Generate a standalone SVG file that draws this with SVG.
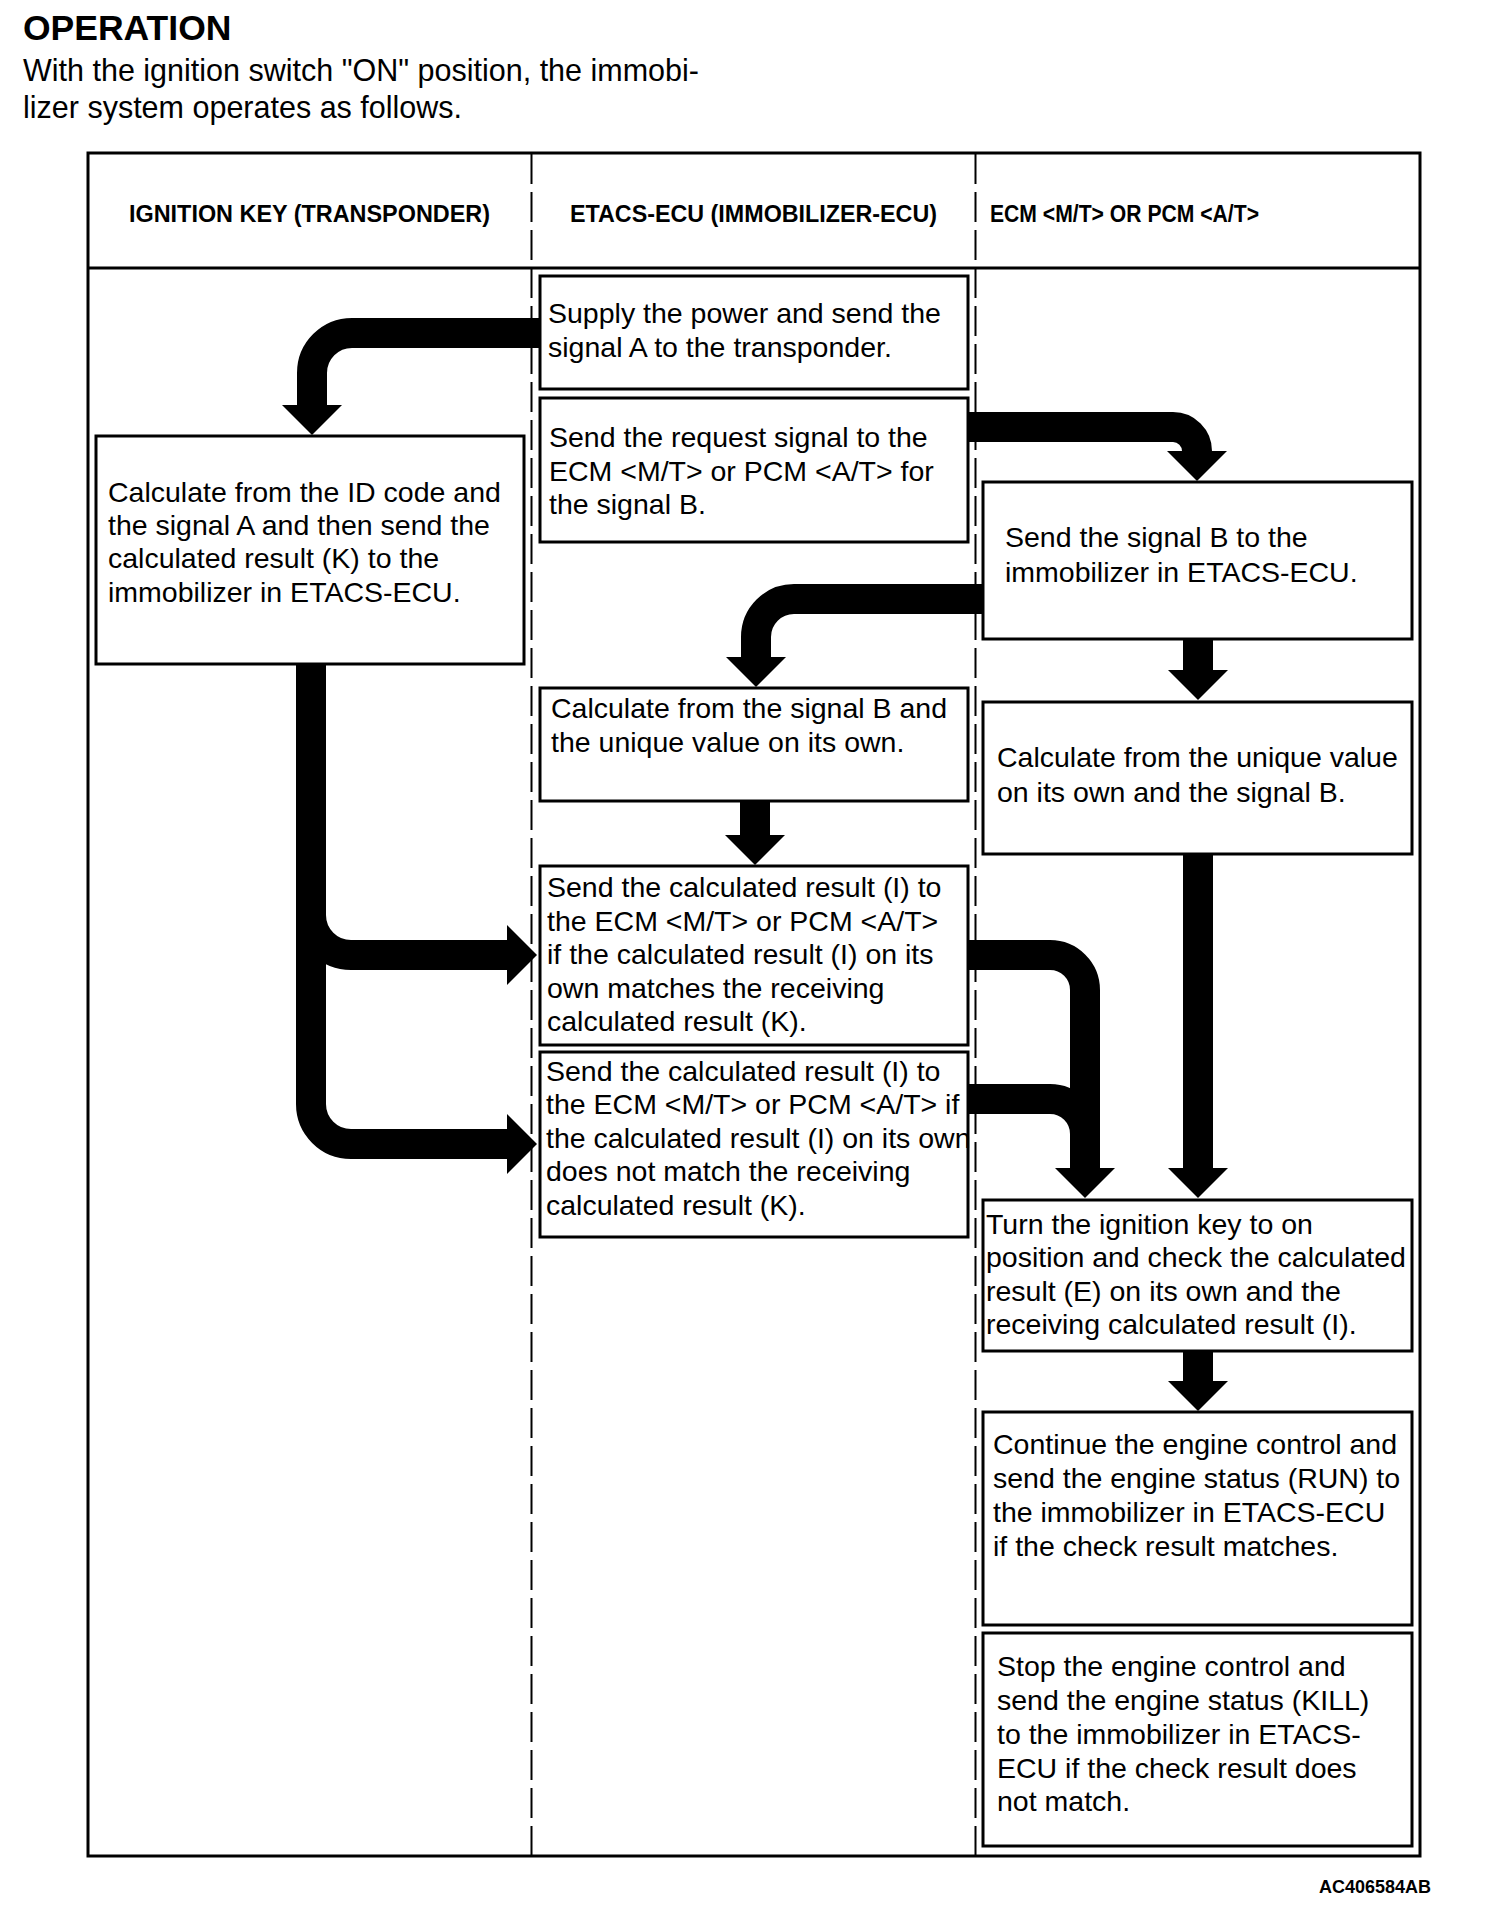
<svg xmlns="http://www.w3.org/2000/svg" width="1504" height="1906" viewBox="0 0 1504 1906">
<style>
.bg{fill:#fff}
.frame{fill:none;stroke:#000;stroke-width:3}
.lane{stroke:#000;stroke-width:2;stroke-dasharray:30 8}
.box{fill:#fff;stroke:#000;stroke-width:3}
.t{font-family:"Liberation Sans",Arial,Helvetica,sans-serif;font-size:28.5px;fill:#000}
.p{font-family:"Liberation Sans",Arial,Helvetica,sans-serif;font-size:30.5px;fill:#000}
.hd{font-family:"Liberation Sans",Arial,Helvetica,sans-serif;font-size:23.5px;font-weight:bold;fill:#000}
.conn{fill:none;stroke:#000;stroke-width:30;stroke-linecap:butt;stroke-linejoin:miter}
</style>
<defs>
<marker id="ah" markerUnits="userSpaceOnUse" viewBox="0 0 30 60" markerWidth="30" markerHeight="60" refX="0" refY="30" orient="auto">
<path d="M0,0 L30,30 L0,60 Z" fill="#000"/>
</marker>
</defs>
<rect class="bg" x="0" y="0" width="1504" height="1906"/>

<g id="title">
<text x="23" y="40" font-family="Liberation Sans, Arial, sans-serif" font-size="35.5" font-weight="bold">OPERATION</text>
<text class="p" x="23" y="81">With the ignition switch "ON" position, the immobi-</text>
<text class="p" x="23" y="118">lizer system operates as follows.</text>
</g>

<g id="frame">
<rect class="frame" x="88" y="153" width="1332" height="1703"/>
<line class="frame" x1="88" y1="268" x2="1420" y2="268"/>
<line class="lane" x1="531.5" y1="154" x2="531.5" y2="1855"/>
<line class="lane" x1="975.5" y1="154" x2="975.5" y2="1855"/>
<text class="hd" x="309.5" y="222" text-anchor="middle" textLength="361" lengthAdjust="spacingAndGlyphs">IGNITION KEY (TRANSPONDER)</text>
<text class="hd" x="753.5" y="222" text-anchor="middle" textLength="367" lengthAdjust="spacingAndGlyphs">ETACS-ECU (IMMOBILIZER-ECU)</text>
<text class="hd" x="990" y="222" textLength="269" lengthAdjust="spacingAndGlyphs">ECM &lt;M/T&gt; OR PCM &lt;A/T&gt;</text>
</g>

<g id="connectors">
<path class="conn" d="M539,333 H352 A40,40 0 0 0 312,373 V405" marker-end="url(#ah)"/>
<path class="conn" d="M969,427 H1173 A24,24 0 0 1 1197,451" marker-end="url(#ah)"/>
<path class="conn" d="M982,599 H794 A38,38 0 0 0 756,637 V657" marker-end="url(#ah)"/>
<path class="conn" d="M1198,640 V670" marker-end="url(#ah)"/>
<path class="conn" d="M755,801 V835" marker-end="url(#ah)"/>
<path class="conn" d="M311,664 V1104 A40,40 0 0 0 351,1144 H507" marker-end="url(#ah)"/>
<path class="conn" d="M311,915 A40,40 0 0 0 351,955 H507" marker-end="url(#ah)"/>
<path class="conn" d="M969,1099 H1050 A35,35 0 0 1 1085,1134 V1168"/>
<path class="conn" d="M969,955 H1050 A35,35 0 0 1 1085,990 V1168" marker-end="url(#ah)"/>
<path class="conn" d="M1198,854 V1168" marker-end="url(#ah)"/>
<path class="conn" d="M1198,1351 V1381" marker-end="url(#ah)"/>
</g>

<g id="n-supply">
<rect class="box" x="540" y="276" width="428" height="113"/>
<text class="t" x="548" y="323">Supply the power and send the</text>
<text class="t" x="548" y="357">signal A to the transponder.</text>
</g>

<g id="n-request">
<rect class="box" x="540" y="398" width="428" height="144"/>
<text class="t" x="549" y="447">Send the request signal to the</text>
<text class="t" x="549" y="481">ECM &lt;M/T&gt; or PCM &lt;A/T&gt; for</text>
<text class="t" x="549" y="514">the signal B.</text>
</g>

<g id="n-key-calc">
<rect class="box" x="96" y="436" width="428" height="228"/>
<text class="t" x="108" y="502">Calculate from the ID code and</text>
<text class="t" x="108" y="535">the signal A and then send the</text>
<text class="t" x="108" y="568">calculated result (K) to the</text>
<text class="t" x="108" y="602">immobilizer in ETACS-ECU.</text>
</g>

<g id="n-send-b">
<rect class="box" x="983" y="482" width="429" height="157"/>
<text class="t" x="1005" y="547">Send the signal B to the</text>
<text class="t" x="1005" y="582">immobilizer in ETACS-ECU.</text>
</g>

<g id="n-calc-b">
<rect class="box" x="540" y="688" width="428" height="113"/>
<text class="t" x="551" y="718">Calculate from the signal B and</text>
<text class="t" x="551" y="752">the unique value on its own.</text>
</g>

<g id="n-calc-unique">
<rect class="box" x="983" y="702" width="429" height="152"/>
<text class="t" x="997" y="767">Calculate from the unique value</text>
<text class="t" x="997" y="802">on its own and the signal B.</text>
</g>

<g id="n-match">
<rect class="box" x="540" y="866" width="428" height="179"/>
<text class="t" x="547" y="897">Send the calculated result (I) to</text>
<text class="t" x="547" y="931">the ECM &lt;M/T&gt; or PCM &lt;A/T&gt;</text>
<text class="t" x="547" y="964">if the calculated result (I) on its</text>
<text class="t" x="547" y="998">own matches the receiving</text>
<text class="t" x="547" y="1031">calculated result (K).</text>
</g>

<g id="n-nomatch">
<rect class="box" x="540" y="1052" width="428" height="185"/>
<text class="t" x="546" y="1081">Send the calculated result (I) to</text>
<text class="t" x="546" y="1114">the ECM &lt;M/T&gt; or PCM &lt;A/T&gt; if</text>
<text class="t" x="546" y="1148">the calculated result (I) on its own</text>
<text class="t" x="546" y="1181">does not match the receiving</text>
<text class="t" x="546" y="1215">calculated result (K).</text>
</g>

<g id="n-turn">
<rect class="box" x="983" y="1200" width="429" height="151"/>
<text class="t" x="986" y="1234">Turn the ignition key to on</text>
<text class="t" x="986" y="1267">position and check the calculated</text>
<text class="t" x="986" y="1301">result (E) on its own and the</text>
<text class="t" x="986" y="1334">receiving calculated result (I).</text>
</g>

<g id="n-continue">
<rect class="box" x="983" y="1412" width="429" height="213"/>
<text class="t" x="993" y="1454">Continue the engine control and</text>
<text class="t" x="993" y="1488">send the engine status (RUN) to</text>
<text class="t" x="993" y="1522">the immobilizer in ETACS-ECU</text>
<text class="t" x="993" y="1556">if the check result matches.</text>
</g>

<g id="n-stop">
<rect class="box" x="983" y="1633" width="429" height="213"/>
<text class="t" x="997" y="1676">Stop the engine control and</text>
<text class="t" x="997" y="1710">send the engine status (KILL)</text>
<text class="t" x="997" y="1744">to the immobilizer in ETACS-</text>
<text class="t" x="997" y="1778">ECU if the check result does</text>
<text class="t" x="997" y="1811">not match.</text>
</g>

<g id="code">
<text x="1319" y="1893" font-family="Liberation Sans, Arial, sans-serif" font-size="19" font-weight="bold" textLength="112" lengthAdjust="spacingAndGlyphs">AC406584AB</text>
</g>
</svg>
